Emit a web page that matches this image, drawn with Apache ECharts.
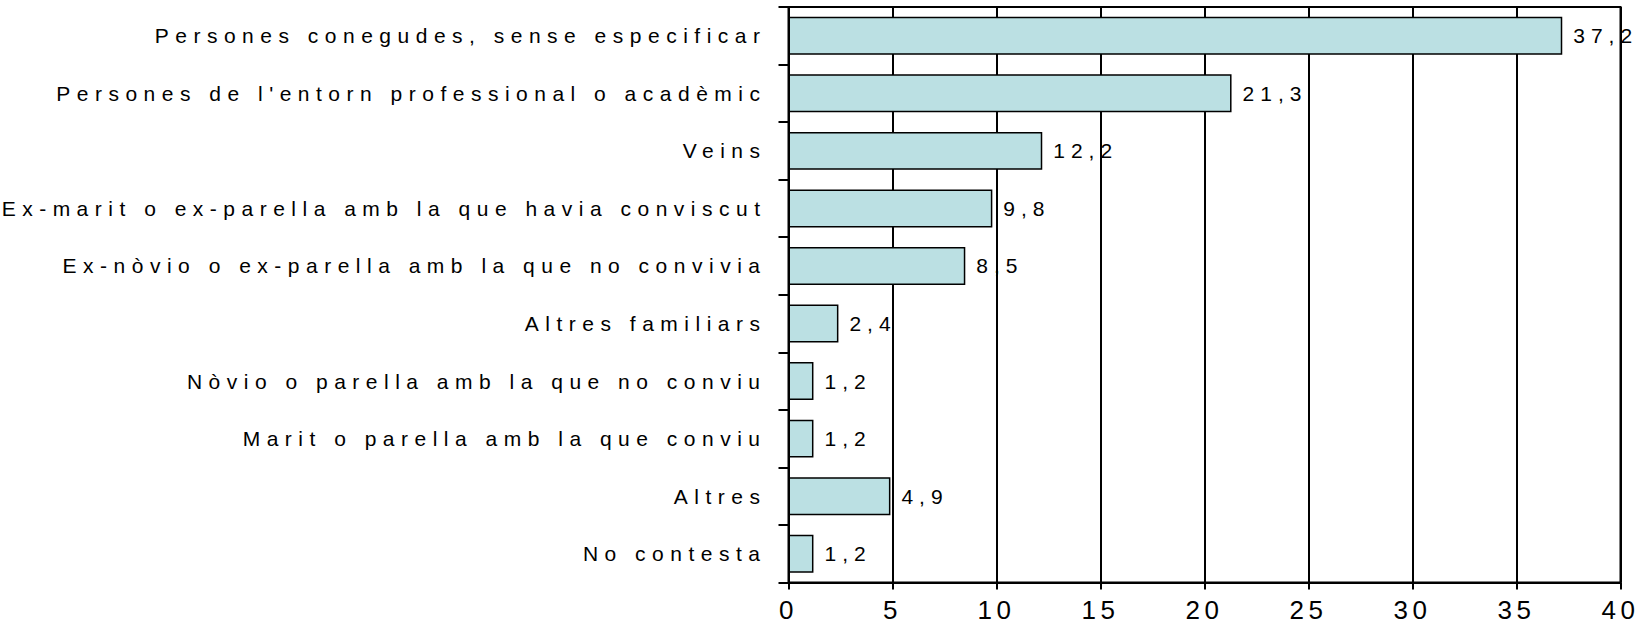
<!DOCTYPE html>
<html>
<head>
    <meta charset="utf-8">
    <title>Agressors</title>
    <script src="https://cdn.jsdelivr.net/npm/echarts@6/dist/echarts.min.js"></script>
    <style>
        html, body { margin: 0; padding: 0; background: #fff; }
        #chart { width: 1645px; height: 626px; }
        /* text in the original is drawn wide, spread the letters out */
        #chart text[text-anchor="end"] { letter-spacing: 6.5px; }
        #chart text[text-anchor="start"] { letter-spacing: 6px; }
        #chart text[text-anchor="middle"] { letter-spacing: 4.5px; }
    </style>
</head>
<body>
    <div id="chart"></div>
    <script>
        var categories = [
            'Persones conegudes, sense especificar',
            "Persones de l'entorn professional o acadèmic",
            'Veins',
            'Ex-marit o ex-parella amb la que havia conviscut',
            'Ex-nòvio o ex-parella amb la que no convivia',
            'Altres familiars',
            'Nòvio o parella amb la que no conviu',
            'Marit o parella amb la que conviu',
            'Altres',
            'No contesta'
        ];
        var values = [37.2, 21.3, 12.2, 9.8, 8.5, 2.4, 1.2, 1.2, 4.9, 1.2];
        var xTicks = [0, 40, 5]; // min, max, interval

        var font = 'Liberation Sans';
        var myChart = echarts.init(document.getElementById('chart'), null, { renderer: 'svg' });
        var option = {
            animation: false,
            grid: {
                left: 788.5, right: 24.5, top: 7, bottom: 43.5,
                show: true, borderColor: '#000', borderWidth: 2
            },
            xAxis: {
                type: 'value',
                min: xTicks[0],
                max: xTicks[1],
                interval: xTicks[2],
                axisLine: { show: true, lineStyle: { color: '#000', width: 2 } },
                axisTick: { show: true, length: 7, lineStyle: { color: '#000', width: 2 } },
                axisLabel: { color: '#000', fontSize: 26, fontFamily: font, margin: 14 },
                splitLine: { show: true, lineStyle: { color: '#000', width: 2 } }
            },
            yAxis: {
                type: 'category',
                inverse: true,
                data: categories,
                axisLine: { show: true, lineStyle: { color: '#000', width: 2 } },
                axisTick: { show: true, length: 10, lineStyle: { color: '#000', width: 2 } },
                axisLabel: { color: '#000', fontSize: 21, fontFamily: font, margin: 22 },
                splitLine: { show: false }
            },
            series: [{
                type: 'bar',
                data: values,
                barCategoryGap: '34%',
                itemStyle: { color: '#BBE0E3', borderColor: '#000', borderWidth: 1.5 },
                label: {
                    show: true,
                    position: 'right',
                    distance: 11,
                    color: '#000',
                    fontSize: 21,
                    fontFamily: font,
                    formatter: function (p) { return String(p.value).replace('.', ','); }
                }
            }]
        };
        myChart.setOption(option);
    </script>
</body>
</html>
